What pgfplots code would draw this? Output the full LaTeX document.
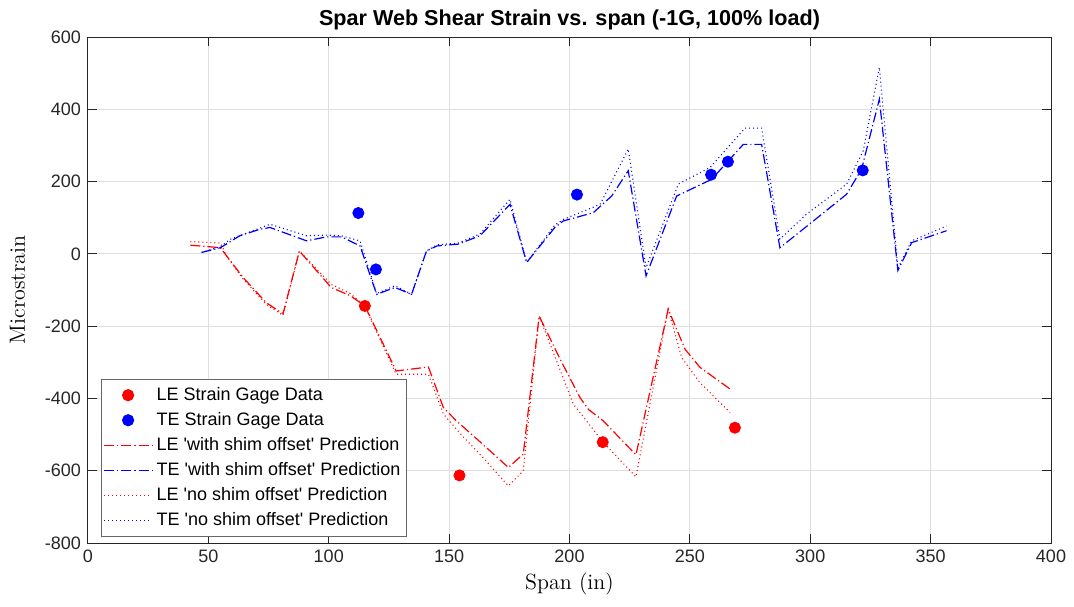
\documentclass[border=0pt]{standalone}
\usepackage{pgfplots}
\pgfplotsset{compat=1.18}
\usepackage{fontspec}
\newfontfamily\arial{Liberation Sans}

\definecolor{axgray}{gray}{0.15}
\definecolor{gridgray}{gray}{0.87}
\definecolor{mred}{rgb}{1,0,0}
\definecolor{mblue}{rgb}{0,0,1}

\tikzset{
    dashdot/.style={line width=0.6pt, dash pattern=on 5pt off 1.5pt on 0.6pt off 1.5pt},
    dotline/.style={line width=0.55pt, dash pattern=on 0.5pt off 1.5pt},
}

\begin{document}
\begin{tikzpicture}
\begin{axis}[
    name=ax, at={(0,0)}, anchor=south west,
    scale only axis,
    width=481.5pt, height=253pt,
    xmin=0, xmax=400, ymin=-800, ymax=600,
    xtick={0,50,...,400}, ytick={-800,-600,...,600},
    grid=major,
    major grid style={gridgray, line width=0.5pt},
    axis line style={axgray, line width=0.5pt},
    tick style={axgray, line width=0.5pt},
    tick align=inside, major tick length=4.5pt,
    ticklabel style={font=\arial\fontsize{9}{9}\selectfont, text=axgray},
    /pgf/number format/assume math mode=true,
    /pgf/number format/1000 sep={},
    title={\arial\bfseries\fontsize{10.8}{12}\selectfont Spar Web Shear Strain vs. span (-1G, 100\% load)},
    title style={yshift=-6pt},
    xlabel={\fontsize{11}{12}\selectfont Span (in)},
    ylabel={\fontsize{11}{12}\selectfont Microstrain},
    xlabel style={yshift=2pt},
    ylabel style={yshift=3pt},
    legend image code/.code={\draw[#1] (0pt,0pt) -- (24pt,0pt);},
    legend style={at={(0.0135,0.012)}, anchor=south west, draw=black!60, line width=0.5pt,
        font=\arial\fontsize{9}{9}\selectfont, row sep=0.5pt, inner xsep=1pt, inner ysep=2pt},
    legend cell align=left,
]
% strain gage data
\addplot[only marks, mark=*, mark size=2.8pt, color=mred,
    legend image code/.code={\fill[mred] (12pt,0pt) circle[radius=2.8pt];}] coordinates {
(115,-144) (154.3,-613) (213.8,-521) (268.7,-481)};
\addlegendentry{LE Strain Gage Data}
\addplot[only marks, mark=*, mark size=2.8pt, color=mblue,
    legend image code/.code={\fill[mblue] (12pt,0pt) circle[radius=2.8pt];}] coordinates {
(112.3,113) (119.6,-43) (203.1,164) (258.8,219) (265.8,255) (321.8,231)};
\addlegendentry{TE Strain Gage Data}

% predictions, with shim offset
\addplot[color=mred, dashdot,
    legend image code/.code={\draw[mred, dashdot] (0pt,0pt) -- (24pt,0pt);}] coordinates {
(42.5,24) (50,20) (55,17) (57.6,-6) (64.5,-66) (74,-135) (81,-166) (87.8,8)
(101,-93) (109,-116) (115,-144) (120,-213) (128,-324) (141.4,-313) (147.6,-425)
(153,-462) (162,-515) (174.6,-591) (180.8,-554) (187.4,-172) (196,-290)
(204.4,-398) (207.8,-430) (214,-462) (227.6,-556) (241,-153) (248,-264)
(254.2,-314) (266.7,-374)};
\addlegendentry{LE 'with shim offset' Prediction}
\addplot[color=mblue, dashdot,
    legend image code/.code={\draw[mblue, dashdot] (0pt,0pt) -- (24pt,0pt);}] coordinates {
(47.2,4) (55,17) (63,50) (71.4,68) (75.6,73) (90.8,36) (99,47) (105.3,47)
(113,22) (119.9,-112) (127.5,-93) (134.4,-112) (140.6,8) (145,22) (153.8,27)
(162.8,50) (175.3,137) (182.2,-24) (193.9,73) (197.4,91) (209.9,114) (217.5,160)
(224.4,230) (231.8,-61) (244.5,160) (259,206) (272.2,303) (279.8,303) (287.4,17)
(301.3,91) (315.1,165) (321.3,234) (328.7,428) (336.4,-46) (342.1,31) (356.6,64)};
\addlegendentry{TE 'with shim offset' Prediction}

% predictions, no shim offset
\addplot[color=mred, dotline] coordinates {
(42.5,34) (55,30) (57.6,-6) (64.5,-70) (74,-140) (81,-170) (87.8,8) (101,-84)
(109,-110) (115,-145) (120,-218) (128,-333) (141.4,-333) (147.6,-443) (155,-500)
(165,-570) (174.6,-642) (180.8,-600) (187.4,-172) (201.6,-416) (214,-521)
(227.6,-617) (241,-153) (246.6,-287) (254,-355) (266.7,-439)};
\addlegendentry{LE 'no shim offset' Prediction}
\addplot[color=mblue, dotline] coordinates {
(47.2,4) (55,20) (59,40) (75.6,82) (90.8,50) (99,52) (105.3,50) (113,36)
(119.9,-110) (127.5,-88) (134.4,-112) (140.6,8) (145,25) (153.8,30) (162.8,55)
(175.3,151) (182.2,-24) (193.9,80) (197.4,95) (212.7,137) (224.4,290)
(231.8,-38) (245.2,193) (258.4,239) (272.9,348) (279.8,348) (287.4,41)
(298.5,110) (315.1,193) (322,285) (328.7,516) (336.4,-40) (342.1,36) (356.6,77)};
\addlegendentry{TE 'no shim offset' Prediction}
\end{axis}
\pgfresetboundingbox
\path (-44pt,-31.5pt) rectangle (493pt,271.5pt);
\end{tikzpicture}
\end{document}
